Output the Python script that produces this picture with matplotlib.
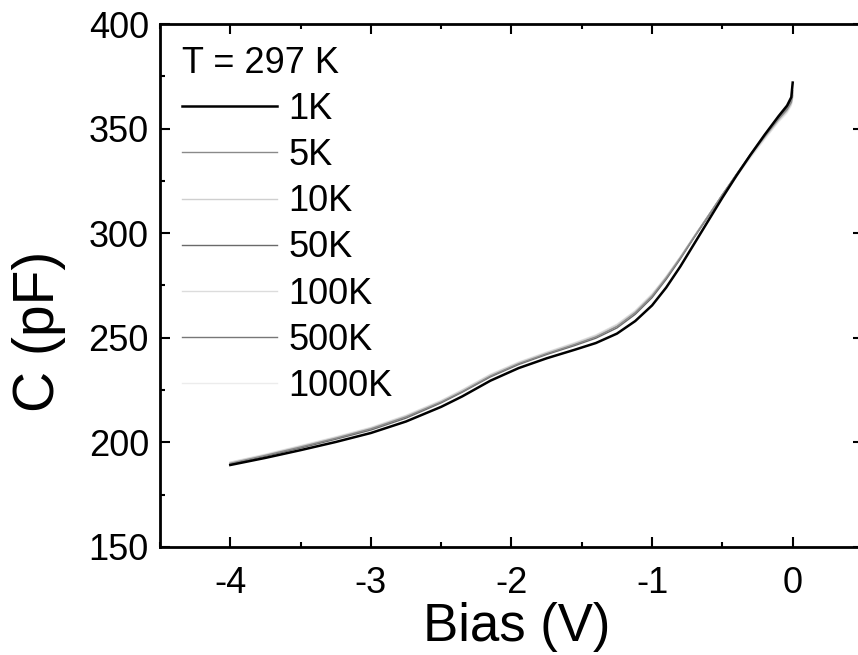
import matplotlib
matplotlib.use("Agg")
import matplotlib.pyplot as plt
from matplotlib.ticker import MultipleLocator

plt.rcParams["font.family"] = ["Liberation Sans", "DejaVu Sans"]
plt.rcParams["axes.unicode_minus"] = False

# Bias points (V)
bias = [-4.0, -3.75, -3.5, -3.25, -3.0, -2.75, -2.5, -2.35, -2.15, -1.95, -1.75, -1.55, -1.4, -1.25,
        -1.12, -1.0, -0.9, -0.8, -0.7, -0.6, -0.5, -0.4, -0.3, -0.2, -0.1, -0.04, -0.01, 0.0]

c_1k = [189.2, 192.6, 196.3, 200.2, 204.5, 210.0, 217.0, 222.0, 229.5, 235.5, 240.2, 244.3, 247.5, 252.0,
        258.0, 265.5, 274.0, 284.0, 295.0, 306.0, 317.0, 327.5, 337.5, 347.0, 356.0, 361.0, 365.0, 372.0]
c_5k = [190.0, 193.8, 197.8, 202.0, 206.5, 212.2, 219.3, 224.3, 231.7, 237.6, 242.4, 246.8, 250.4, 255.4,
        262.0, 270.0, 278.6, 288.2, 298.4, 308.4, 318.4, 328.0, 337.2, 346.0, 354.5, 359.0, 362.5, 366.0]
c_10k = [190.3, 194.0, 198.1, 202.3, 206.8, 212.6, 219.7, 224.8, 232.2, 238.0, 242.8, 247.3, 250.9, 256.0,
         262.5, 270.5, 279.0, 288.5, 298.6, 308.5, 318.3, 327.7, 336.8, 345.6, 354.0, 358.5, 362.0, 365.5]
c_50k = [189.8, 193.4, 197.3, 201.5, 205.9, 211.6, 218.9, 224.0, 231.3, 237.2, 242.0, 246.3, 249.8, 254.7,
         261.2, 269.2, 277.9, 287.6, 298.0, 308.0, 318.2, 328.2, 337.8, 346.8, 355.5, 360.0, 363.5, 368.0]
c_100k = [190.5, 194.2, 198.3, 202.5, 207.0, 212.8, 219.9, 225.0, 232.4, 238.2, 243.0, 247.5, 251.2, 256.3,
          262.8, 270.8, 279.2, 288.6, 298.6, 308.4, 318.0, 327.3, 336.4, 345.2, 353.6, 358.0, 361.5, 365.0]
c_500k = [190.1, 193.9, 197.9, 202.1, 206.6, 212.3, 219.5, 224.6, 232.0, 237.8, 242.6, 247.0, 250.6, 255.6,
          262.2, 270.2, 278.8, 288.3, 298.4, 308.3, 318.5, 328.0, 337.4, 346.4, 355.0, 359.5, 363.0, 367.0]
c_1000k = [190.6, 194.4, 198.5, 202.7, 207.2, 213.0, 220.1, 225.2, 232.6, 238.4, 243.2, 247.7, 251.4, 256.5,
           263.0, 271.0, 279.4, 288.7, 298.6, 308.3, 317.8, 327.0, 336.0, 344.8, 353.2, 357.5, 361.0, 364.5]

labels = ["1K", "5K", "10K", "50K", "100K", "500K", "1000K"]
series = [c_1k, c_5k, c_10k, c_50k, c_100k, c_500k, c_1000k]
colors = ["#000000", "#8a8a8a", "#cfcfcf", "#6a6a6a", "#dcdcdc", "#777777", "#ececec"]
widths = [1.8, 1.0, 1.0, 1.0, 1.0, 1.0, 1.0]

fig = plt.figure(figsize=(8.58, 6.55), dpi=100)
ax = fig.add_axes([160 / 858, 1 - 547 / 655, 703 / 858, 523 / 655])

# light lines first so the black 1K curve stays on top
for i in reversed(range(len(series))):
    ax.plot(bias, series[i], color=colors[i], lw=widths[i], label=labels[i], zorder=2 + (i == 0))

ax.set_xlim(-4.5, 0.5)
ax.set_ylim(150, 400)
ax.xaxis.set_major_locator(MultipleLocator(1))
ax.xaxis.set_minor_locator(MultipleLocator(0.5))
ax.yaxis.set_major_locator(MultipleLocator(50))
ax.yaxis.set_minor_locator(MultipleLocator(25))
ax.tick_params(which="both", direction="in", top=True, right=True, width=1.5, labelsize=26)
ax.tick_params(which="major", length=7.5)
ax.tick_params(which="minor", length=3.8)
ax.tick_params(axis="x", pad=14)
ax.tick_params(axis="y", pad=8)
for s in ax.spines.values():
    s.set_linewidth(2)

ax.set_xlabel("Bias (V)", fontsize=38)
ax.xaxis.set_label_coords(0.508, -0.105)
ax.set_ylabel("C (pF)", fontsize=41)
ax.yaxis.set_label_coords(-0.134, 0.413)

handles, labs = ax.get_legend_handles_labels()
order = [labs.index(l) for l in labels]
ax.legend([handles[k] for k in order], [labs[k] for k in order],
          title="T = 297 K", title_fontsize=26, fontsize=26, frameon=False,
          loc="upper left", bbox_to_anchor=(0.0, 1.0), borderaxespad=0.0, borderpad=0.6,
          handlelength=2.65, handletextpad=0.3, labelspacing=0.31, alignment="left")

fig.savefig("out.png", dpi=100)
